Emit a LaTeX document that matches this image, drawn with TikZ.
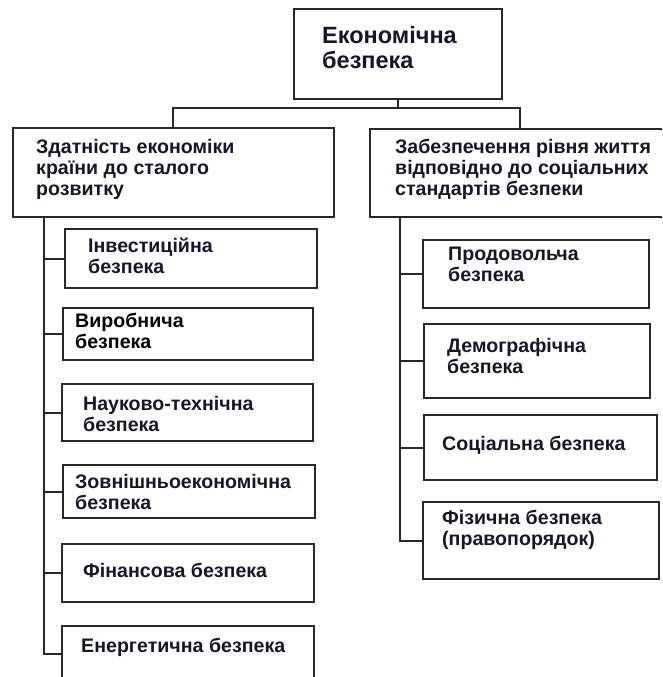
\documentclass[tikz,border=0pt]{standalone}
\usepackage{fontspec}
\setmainfont{Liberation Sans}
\usetikzlibrary{calc}
\definecolor{ink}{RGB}{22,22,40}
\definecolor{frame}{RGB}{40,40,40}
\tikzset{
  box/.style={draw=frame, line width=2pt, rectangle, inner sep=0pt, anchor=north west},
  txt/.style={anchor=west, inner sep=0pt, align=left, text=ink, font=\bfseries\fontsize{19.6}{21}\selectfont},
  bigtxt/.style={txt, font=\bfseries\fontsize{23.5}{25}\selectfont},
  conn/.style={draw=frame, line width=2pt}
}
\newcommand{\mybox}[5]{% name, x1, y1, x2, y2
  \node[box, minimum width={(#4-#2)*1pt}, minimum height={(#5-#3)*1pt}] (#1) at (#2,#3) {};}
\begin{document}
\begin{tikzpicture}[x=1pt,y=-1pt]
\useasboundingbox (0,0) rectangle (662,677);
\clip (0,0) rectangle (662,677);
\fill[white] (0,0) rectangle (662,677);
% boxes
\mybox{root}{293}{8}{501}{98}
\mybox{L}{12}{127}{333}{216}
\mybox{R}{369}{128}{668}{216}
\mybox{c1}{64}{228}{316}{287}
\mybox{c2}{62}{307}{312}{359}
\mybox{c3}{61}{383}{312}{440}
\mybox{c4}{62}{464}{314}{517}
\mybox{c5}{61}{543}{313}{601}
\mybox{c6}{61}{625}{313}{680}
\mybox{d1}{422}{239}{648}{307}
\mybox{d2}{423}{323}{649}{397}
\mybox{d3}{423}{414}{656}{479}
\mybox{d4}{422}{501}{658}{578}
% texts
\node[bigtxt] (troot) at (322,47.5) {Економічна\\безпека};
\node[txt] (tL) at (36,169) {Здатність економіки\\країни до сталого\\розвитку};
\node[txt] (tR) at (395,169) {Забезпечення рівня життя\\відповідно до соціальних\\стандартів безпеки};
\node[txt] (tc1) at (88,255.5) {Інвестиційна\\безпека};
\node[txt, text=black] (tc2) at (75,331) {Виробнича\\безпека};
\node[txt] (tc3) at (83,413.5) {Науково-технічна\\безпека};
\node[txt] (tc4) at (75,491.5) {Зовнішньоекономічна\\безпека};
\node[txt] (tc5) at (83,570) {Фінансова безпека};
\node[txt] (tc6) at (81,647) {Енергетична безпека};
\node[txt] (td1) at (448,264) {Продовольча\\безпека};
\node[txt] (td2) at (447,356) {Демографічна\\безпека};
\node[txt] (td3) at (442,445) {Соціальна безпека};
\node[txt] (td4) at (442,530) {Фізична безпека\\(правопорядок)};
% connectors
\coordinate (hL) at (173,108);
\coordinate (hR) at (520,108);
\coordinate (vL) at (44,216);
\coordinate (vR) at (400,216);
\draw[conn] (root.south) -- (root.south |- hL);
\draw[conn] (L.north -| hL) -- (hL) -- (hR) -- (R.north -| hR);
\draw[conn] (L.south -| vL) |- (c6.west);
\foreach \c in {c1,c2,c3,c4,c5} { \draw[conn] (\c.west -| vL) -- (\c.west); }
\draw[conn] (R.south -| vR) |- (d4.west);
\foreach \c in {d1,d2,d3} { \draw[conn] (\c.west -| vR) -- (\c.west); }
\end{tikzpicture}
\end{document}
